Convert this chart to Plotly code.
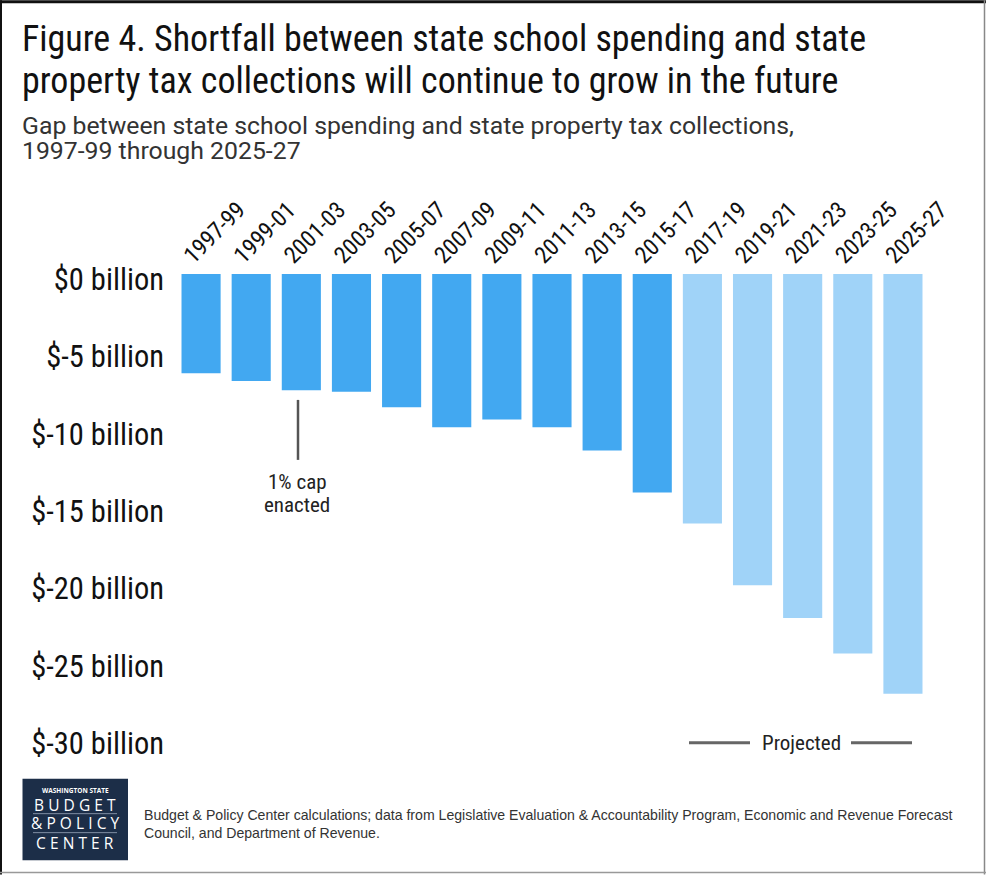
import plotly.graph_objects as go

# ---------------- data ----------------
periods = ["1997-99", "1999-01", "2001-03", "2003-05", "2005-07", "2007-09", "2009-11",
           "2011-13", "2013-15", "2015-17", "2017-19", "2019-21", "2021-23", "2023-25", "2025-27"]
gap_billion = [-6.4, -6.9, -7.5, -7.6, -8.6, -9.9, -9.4, -9.9, -11.4, -14.1,
               -16.1, -20.1, -22.2, -24.5, -27.1]
projected = [False] * 10 + [True] * 5
tick_vals = [0, -5, -10, -15, -20, -25, -30]
tick_text = ["$0 billion", "$-5 billion", "$-10 billion", "$-15 billion",
             "$-20 billion", "$-25 billion", "$-30 billion"]

HIST_COLOR = "#42A8F1"
PROJ_COLOR = "#A0D3F8"

# ---------------- layout geometry (pixels) ----------------
FW, FH = 986, 875
L, R, T, B = 176, 928, 274, 748.3
W, H = R - L, B - T


def px(x):
    return (x - L) / W


def py(y):
    return (B - y) / H


TITLE_FONT = "Roboto Condensed, Roboto, sans-serif"

fig = go.Figure()
fig.add_trace(go.Bar(
    x=periods, y=gap_billion,
    marker=dict(color=[PROJ_COLOR if p else HIST_COLOR for p in projected], line_width=0),
    hoverinfo="x+y",
))

annotations = []
# title
for text, yy in [("Figure 4. Shortfall between state school spending and state", 39),
                 ("property tax collections will continue to grow in the future", 81)]:
    annotations.append(dict(text=text, x=px(20), y=py(yy), xref="paper", yref="paper",
                            xanchor="left", yanchor="middle", showarrow=False,
                            font=dict(family=TITLE_FONT, size=36, color="#111111")))
# subtitle
for text, yy in [("Gap between state school spending and state property tax collections,", 125),
                 ("1997-99 through 2025-27", 150)]:
    annotations.append(dict(text=text, x=px(20), y=py(yy), xref="paper", yref="paper",
                            xanchor="left", yanchor="middle", showarrow=False,
                            font=dict(family="Roboto, sans-serif", size=24.8, color="#333333")))
# 1% cap annotation
for text, yy in [("1% cap", 482), ("enacted", 505)]:
    annotations.append(dict(text=text, x=px(297), y=py(yy), xref="paper", yref="paper",
                            xanchor="center", yanchor="middle", showarrow=False,
                            font=dict(family=TITLE_FONT, size=21, color="#222222")))
# projected label
annotations.append(dict(text="Projected", x=px(801), y=py(743), xref="paper", yref="paper",
                        xanchor="center", yanchor="middle", showarrow=False,
                        font=dict(family=TITLE_FONT, size=21, color="#222222")))
# footer
for text, yy in [("Budget & Policy Center calculations; data from Legislative Evaluation & Accountability Program, Economic and Revenue Forecast", 815),
                 ("Council, and Department of Revenue.", 833)]:
    annotations.append(dict(text=text, x=px(142), y=py(yy), xref="paper", yref="paper",
                            xanchor="left", yanchor="middle", showarrow=False,
                            font=dict(family="Liberation Sans, Arial, sans-serif", size=14.1, color="#333333")))
# logo text
logo_cx = 75
gap = "\u2009\u200a"
for text, yy, size, weight in [("WASHINGTON STATE", 791, 6.5, 700),
                               (gap.join("BUDGET"), 805, 15.5, 400),
                               (gap.join("&POLICY"), 823.5, 15.5, 400),
                               (gap.join("CENTER"), 843, 15.5, 400)]:
    annotations.append(dict(text=text, x=px(logo_cx), y=py(yy), xref="paper", yref="paper",
                            xanchor="center", yanchor="middle", showarrow=False,
                            font=dict(family="Open Sans, sans-serif", size=size, color="#ffffff", weight=weight)))

shapes = []
# 1% cap pointer line
shapes.append(dict(type="line", xref="paper", yref="paper", x0=px(298), x1=px(298), y0=py(400), y1=py(460),
                   line=dict(color="#555555", width=2.5)))
# projected bracket lines
for x0, x1 in [(689, 750), (851, 912)]:
    shapes.append(dict(type="line", xref="paper", yref="paper", x0=px(x0), x1=px(x1), y0=py(743), y1=py(743),
                       line=dict(color="#666666", width=3)))
# logo box
shapes.append(dict(type="rect", xref="paper", yref="paper", x0=px(22.5), x1=px(128), y0=py(779), y1=py(860.5),
                   fillcolor="#1C2E48", line_width=0, layer="above"))
for yy in (814, 833):
    shapes.append(dict(type="line", xref="paper", yref="paper", x0=px(33), x1=px(117), y0=py(yy), y1=py(yy),
                       line=dict(color="#7F8EA3", width=1), layer="above"))
# frame around the figure
shapes.append(dict(type="line", xref="paper", yref="paper", x0=px(0), x1=px(FW), y0=py(1.5), y1=py(1.5),
                   line=dict(color="#111111", width=3)))
shapes.append(dict(type="line", xref="paper", yref="paper", x0=px(1), x1=px(1), y0=py(0), y1=py(FH),
                   line=dict(color="#111111", width=2)))
shapes.append(dict(type="line", xref="paper", yref="paper", x0=px(984.5), x1=px(984.5), y0=py(0), y1=py(FH),
                   line=dict(color="#888888", width=1.5)))
shapes.append(dict(type="line", xref="paper", yref="paper", x0=px(0), x1=px(FW), y0=py(873), y1=py(873),
                   line=dict(color="#999999", width=1.5)))

fig.update_layout(
    width=FW, height=FH,
    margin=dict(l=L, r=FW - R, t=T, b=FH - B, pad=0),
    paper_bgcolor="white", plot_bgcolor="white",
    showlegend=False,
    bargap=0.22,
    annotations=annotations,
    shapes=shapes,
    xaxis=dict(type="category", side="top", tickangle=-45, showgrid=False, zeroline=False, showline=False,
               ticks="", ticklabelshift=-16,
               tickfont=dict(family=TITLE_FONT, size=23.5, color="#111111"), fixedrange=True),
    yaxis=dict(range=[-30.6, 0], tickvals=tick_vals, ticktext=tick_text, showgrid=False, zeroline=False,
               showline=False, ticks="", ticklabelstandoff=11, ticklabelshift=5,
               tickfont=dict(family=TITLE_FONT, size=30.5, color="#111111"), fixedrange=True),
)

fig.write_html("out.html")
